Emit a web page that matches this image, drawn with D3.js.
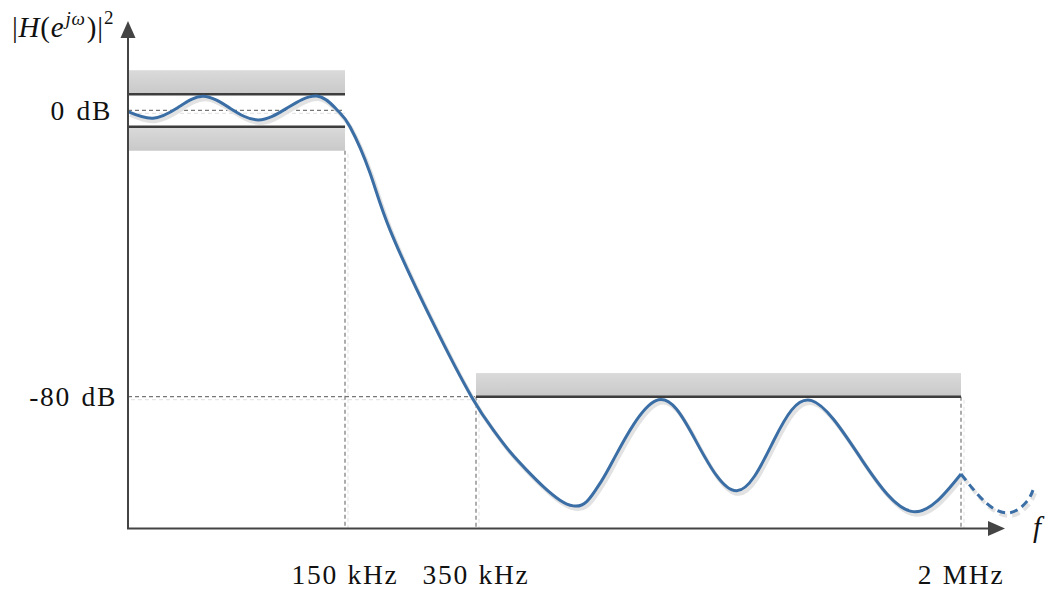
<!DOCTYPE html>
<html lang="en">
<head>
    <meta charset="UTF-8">
    <title>Lowpass filter specification</title>
    <script src="https://d3js.org/d3.v7.min.js"></script>
    <style>
        body {
            margin: 0;
            padding: 0;
            background: #fff;
        }

        svg text {
            font-family: "Liberation Serif", "Times New Roman", serif;
            fill: #111;
        }
    </style>
</head>
<body>
    <svg width="1048" height="589"></svg>

    <script>
        // tick marks on both axes
        const freqTicks = [150, 350, 2000];
        const freqTickLabels = ["150 kHz", "350 kHz", "2 MHz"];
        const dbTicks = [0, -80];
        const dbTickLabels = ["0 dB", "-80 dB"];

        // tolerance scheme (kHz / dB)
        const passEdge = 150;
        const stopEdge = 350;
        const stopEnd = 2000;
        const passRipple = [4.5, -4.6];
        const passBandShade = [11.2, -11.3];
        const stopAtten = -80;
        const stopBandShade = -73.4;

        // response (kHz, dB)
        const responseFreq = [0, 17.3, 34.6, 51.8, 70.5, 89.9, 109.9, 130.4, 144.5, 157.6, 188.2,
            218.7, 284.4, 343.1, 408.9, 465.7, 522.5, 579.0, 635.8, 681.0, 726.6, 771.8, 817.1,
            962.4, 1098.4, 1236.9, 1363.8, 1492.1, 1663.2, 1836.7, 2000];
        const responseDb = [-0.4, -2.2, 0.8, 3.9, 0.6, -2.7, 0.6, 4.0, 0.1, -4.6, -17.5,
            -33.4, -59.4, -80.0, -89.3, -95.4, -100.5, -105.1, -108.9, -110.5, -109.3, -104.2, -97.7,
            -81.1, -92.4, -106.3, -92.1, -81.1, -97.7, -112.1, -101.6];

        // continuation past 2 MHz (dashed)
        const tailFreq = [2000, 2087.4, 2166.7, 2223.5, 2245];
        const tailDb = [-101.6, -109.8, -112.4, -109.3, -106.1];

        const originX = 128, originY = 528.5;
        const axisTopY = 21, axisRightX = 1005;

        const svg = d3.select("svg");

        const x = d3.scaleLinear()
            .domain([0, passEdge, stopEdge, stopEnd])
            .range([originX, 345, 476, 961]);

        const y = d3.scaleLinear()
            .domain([0, -80])
            .range([110.3, 396.7]);

        const defs = svg.append("defs");
        const grad = defs.append("linearGradient")
            .attr("id", "band")
            .attr("x1", 0).attr("y1", 0).attr("x2", 0).attr("y2", 1);
        grad.append("stop").attr("offset", "0%").attr("stop-color", "#dadada");
        grad.append("stop").attr("offset", "100%").attr("stop-color", "#c9c9c9");

        // shaded tolerance bands
        const bands = [
            { x0: 0, x1: passEdge, top: passBandShade[0], bottom: passRipple[0] },
            { x0: 0, x1: passEdge, top: passRipple[1], bottom: passBandShade[1] },
            { x0: stopEdge, x1: stopEnd, top: stopBandShade, bottom: stopAtten }
        ];
        svg.selectAll("rect.band")
            .data(bands)
            .enter()
            .append("rect")
            .attr("class", "band")
            .attr("x", d => x(d.x0))
            .attr("y", d => y(d.top))
            .attr("width", d => x(d.x1) - x(d.x0))
            .attr("height", d => y(d.bottom) - y(d.top))
            .attr("fill", "url(#band)");

        // dashed guide lines, each with a faint offset copy
        const guides = [
            [[0, 0], [passEdge, 0]],
            [[0, stopAtten], [stopEdge, stopAtten]],
            [[passEdge, passBandShade[1]], [passEdge, null]],
            [[stopEdge, stopAtten], [stopEdge, null]],
            [[stopEnd, stopAtten], [stopEnd, null]]
        ];
        const guidePos = p => [x(p[0]), p[1] === null ? originY : y(p[1])];
        [["#e6e6e6", 3], ["#777", 0]].forEach(([col, off]) => {
            svg.selectAll(null)
                .data(guides)
                .enter()
                .append("line")
                .attr("x1", d => guidePos(d[0])[0] + off)
                .attr("y1", d => guidePos(d[0])[1] + off)
                .attr("x2", d => guidePos(d[1])[0] + off)
                .attr("y2", d => guidePos(d[1])[1] + (d[1][1] === null ? 0 : off))
                .attr("stroke", col)
                .attr("stroke-width", 1.2)
                .attr("stroke-dasharray", "4,3");
        });

        // tolerance limit lines
        const limits = [
            [0, passEdge, passRipple[0]],
            [0, passEdge, passRipple[1]],
            [stopEdge, stopEnd, stopAtten]
        ];
        svg.selectAll("line.limit")
            .data(limits)
            .enter()
            .append("line")
            .attr("class", "limit")
            .attr("x1", d => x(d[0]))
            .attr("x2", d => x(d[1]))
            .attr("y1", d => y(d[2]))
            .attr("y2", d => y(d[2]))
            .attr("stroke", "#3d3d3d")
            .attr("stroke-width", 2.5);

        // response curve
        const response = responseFreq.map((f, i) => [f, responseDb[i]]);
        const tail = tailFreq.map((f, i) => [f, tailDb[i]]);

        const line = d3.line()
            .x(d => x(d[0]))
            .y(d => y(d[1]))
            .curve(d3.curveNatural);

        const shadow = svg.append("g").attr("transform", "translate(2,3)");
        shadow.append("path").attr("d", line(response))
            .attr("fill", "none").attr("stroke", "#e2e2e2").attr("stroke-width", 4);
        shadow.append("path").attr("d", line(tail))
            .attr("fill", "none").attr("stroke", "#e2e2e2").attr("stroke-width", 4)
            .attr("stroke-dasharray", "8,5");

        svg.append("path").attr("d", line(response))
            .attr("fill", "none")
            .attr("stroke", "#3a6ea5")
            .attr("stroke-width", 3)
            .attr("stroke-linejoin", "round");
        svg.append("path").attr("d", line(tail))
            .attr("fill", "none")
            .attr("stroke", "#3a6ea5")
            .attr("stroke-width", 3)
            .attr("stroke-dasharray", "8,5");

        // axes with arrow heads
        const axisCol = "#444";
        svg.append("line")
            .attr("x1", originX).attr("y1", originY)
            .attr("x2", originX).attr("y2", axisTopY + 10)
            .attr("stroke", axisCol).attr("stroke-width", 2);
        svg.append("line")
            .attr("x1", originX - 1).attr("y1", originY)
            .attr("x2", axisRightX - 10).attr("y2", originY)
            .attr("stroke", axisCol).attr("stroke-width", 2);
        svg.append("path")
            .attr("d", `M${originX},${axisTopY} L${originX - 7.5},${axisTopY + 17} L${originX + 7.5},${axisTopY + 17} Z`)
            .attr("fill", axisCol);
        svg.append("path")
            .attr("d", `M${axisRightX},${originY} L${axisRightX - 17},${originY - 7.5} L${axisRightX - 17},${originY + 7.5} Z`)
            .attr("fill", axisCol);

        // tick labels
        svg.selectAll("text.xtick")
            .data(freqTicks)
            .enter()
            .append("text")
            .attr("class", "xtick")
            .attr("x", d => x(d))
            .attr("y", 583.5)
            .attr("text-anchor", "middle")
            .attr("font-size", 27.5)
            .attr("letter-spacing", 1.7)
            .attr("word-spacing", 1)
            .text((d, i) => freqTickLabels[i]);

        svg.selectAll("text.ytick")
            .data(dbTicks)
            .enter()
            .append("text")
            .attr("class", "ytick")
            .attr("x", (d, i) => i === 0 ? 112 : 117)
            .attr("y", d => y(d) + 9.5)
            .attr("text-anchor", "end")
            .attr("font-size", 27.5)
            .attr("letter-spacing", 1.7)
            .attr("word-spacing", 2)
            .text((d, i) => dbTickLabels[i]);

        // axis titles
        const ylab = svg.append("text")
            .attr("x", 12)
            .attr("y", 37)
            .attr("font-size", 29)
            .attr("letter-spacing", 0.8);
        ylab.append("tspan").text("|");
        ylab.append("tspan").attr("font-style", "italic").text("H");
        ylab.append("tspan").text("(");
        ylab.append("tspan").attr("font-style", "italic").text("e");
        ylab.append("tspan").attr("font-style", "italic").attr("font-size", 19).attr("dx", 1).attr("dy", -12).text("jω");
        ylab.append("tspan").attr("dy", 12).attr("dx", 1).text(")|");
        ylab.append("tspan").attr("font-size", 19).attr("dy", -13).text("2");

        svg.append("text")
            .attr("x", 1033)
            .attr("y", 537)
            .attr("font-size", 29)
            .attr("font-style", "italic")
            .text("f");
    </script>
</body>
</html>
